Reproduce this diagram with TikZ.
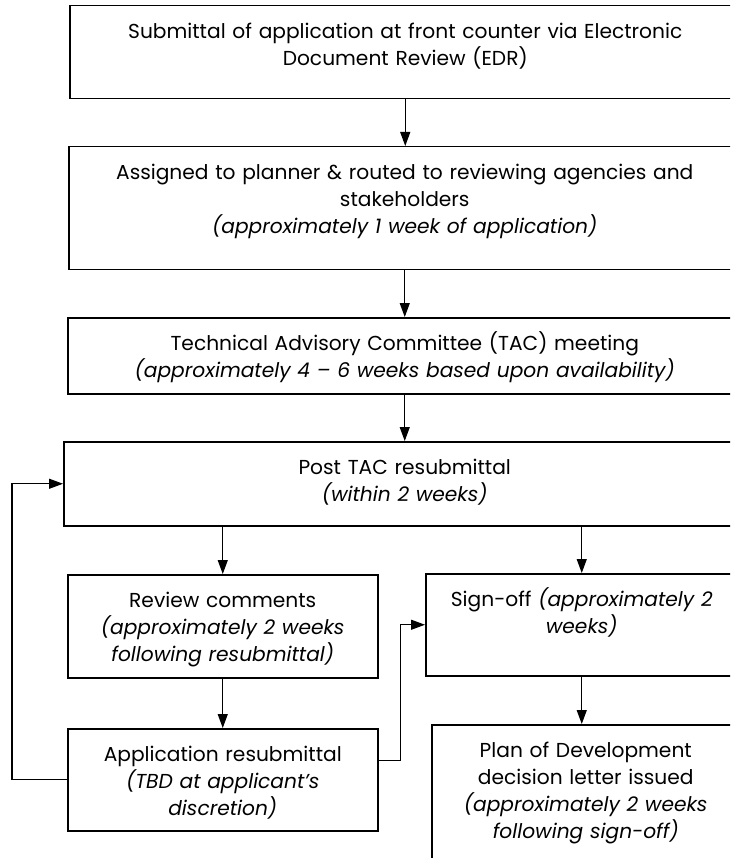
\documentclass[tikz,border=0pt]{standalone}
\usepackage{fontspec}
\setmainfont{Poppins}
\usetikzlibrary{arrows.meta}

\begin{document}
\begin{tikzpicture}[x=1pt, y=-1pt,
  stage/.style={draw, line width=1.5pt, anchor=north west, inner xsep=0pt,
    inner ysep=0pt, align=center, text height=33pt,
    font=\fontsize{20.2}{26.8}\selectfont},
  flow/.style={line width=1.2pt, -{Triangle[length=14pt, width=10pt]}}]
\useasboundingbox (0,0) rectangle (730,858);
\clip (0,0) rectangle (730,858);

\node[stage, text width=671pt, text depth=60pt] (sub) at (69,5)
  {Submittal of application at front counter via Electronic\\Document Review (EDR)};
\node[stage, text width=672pt, text depth=90pt] (asg) at (68,146)
  {Assigned to planner \& routed to reviewing agencies and\\stakeholders\\
   \textit{(approximately 1 week of application)}};
\node[stage, text width=674pt, text depth=43pt] (tac) at (67,317)
  {Technical Advisory Committee (TAC) meeting\\
   \textit{(approximately 4 – 6 weeks based upon availability)}};
\node[stage, text width=682pt, text depth=51pt] (post) at (63,441)
  {Post TAC resubmittal\\\textit{(within 2 weeks)}};

\node[stage, text width=310pt, text depth=70pt] (rev) at (67,574)
  {Review comments\\\textit{(approximately 2 weeks}\\\textit{following resubmittal)}};
\node[stage, text width=310pt, text depth=69pt] (app) at (67,728)
  {Application resubmittal\\\textit{(TBD at applicant’s}\\\textit{discretion)}};
\node[stage, text width=312pt, text depth=69pt] (sgn) at (425,573)
  {Sign-off \textit{(approximately 2}\\\textit{weeks)}};
\node[stage, text width=308pt, text depth=117pt] (plan) at (431,724)
  {Plan of Development\\decision letter issued\\\textit{(approximately 2 weeks}\\
   \textit{following sign-off)}};

\draw[flow] (sub) -- (sub |- asg.north);
\draw[flow] (asg) -- (asg |- tac.north);
\draw[flow] (tac) -- (tac |- post.north);
\draw[flow] (rev |- post.south) -- (rev.north);
\draw[flow] (sgn |- post.south) -- (sgn.north);
\draw[flow] (rev) -- (app);
\draw[flow] (sgn) -- (sgn |- plan.north);

\draw[flow] ([yshift=19pt]app.east) -- ++(22,0) |- (sgn.west);
\draw[flow] (app.west) -- ++(-55,0) |- (post.west);

\end{tikzpicture}
\end{document}
